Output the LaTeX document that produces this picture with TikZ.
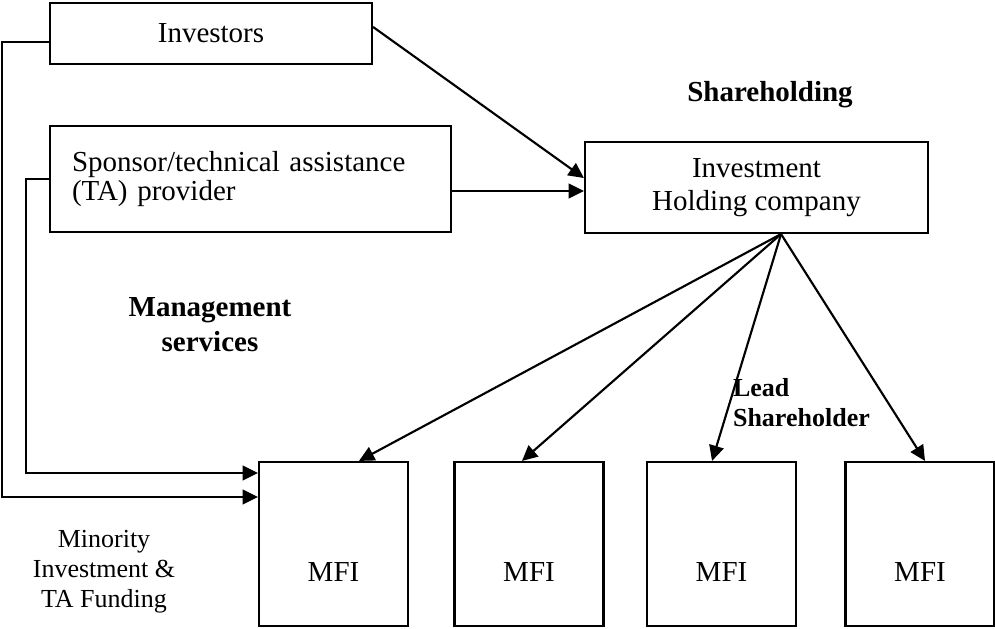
\documentclass[tikz,border=0pt]{standalone}
\usepackage{fontspec}
\setmainfont{Liberation Serif}
\usetikzlibrary{arrows.meta,calc}
\begin{document}
\begin{tikzpicture}[x=0.75pt,y=-0.75pt,line width=1.6pt,
  box/.style={draw,rectangle,inner sep=0pt,font=\fontsize{21.75}{21.75}\selectfont},
  mfibox/.style={box,minimum width=111.75pt,minimum height=123pt},
  arr/.style={-{Triangle[length=11.5pt,width=11pt]}},
  lbl/.style={font=\fontsize{21.75}{26}\selectfont\bfseries,align=center,inner sep=0pt},
  txt/.style={font=\fontsize{21.75}{21.75}\selectfont,inner sep=0pt},
  small/.style={font=\fontsize{19.5}{22.5}\selectfont,inner sep=0pt}]
\useasboundingbox (0,0) rectangle (995,628);

\node[box,minimum width=241.5pt,minimum height=45.75pt] (inv) at (211,33.5) {Investors};
\node[box,minimum width=300.75pt,minimum height=79.5pt,text width=267.75pt,align=left] (spon) at (250.5,179) {Sponsor/technical assistance\\(TA) provider};
\node[box,minimum width=257.25pt,minimum height=68.25pt,align=center,font=\fontsize{21.75}{24.75}\selectfont] (hold) at (756.5,187.5) {Investment\\Holding company};

\node[mfibox] (m1) at (333.5,544) {};
\node[mfibox] (m2) at (529,544) {};
\node[mfibox] (m3) at (721.5,544) {};
\node[mfibox] (m4) at (920,544) {};
\node[txt] (m1t) at (333.5,572) {MFI};
\node[txt] (m2t) at (529,572) {MFI};
\node[txt] (m3t) at (721.5,572) {MFI};
\node[txt] (m4t) at (920,572) {MFI};

\node[lbl] (sh) at (770,95) {Shareholding};
\node[lbl] (ms) at (210,324.5) {Management\\services};
\node[small,font=\fontsize{19.5}{22.5}\selectfont\bfseries,align=left,anchor=west] (ls) at (732,403) {Lead\\Shareholder};
\node[small,align=center] (mi) at (104,572) {Minority\\Investment \&\\TA Funding};

% investors and sponsor to holding
\draw[arr] ([yshift=4.9pt]inv.east) -- ([yshift=7.1pt]hold.west);
\coordinate (s1) at ([yshift=-9pt]spon.east);
\draw[arr] (s1) -- (s1 -| hold.west);

% holding to MFIs
\coordinate (apex) at ([xshift=18.4pt]hold.south);
\draw[arr] (apex) -- ([xshift=19.1pt]m1.north);
\draw[arr] (apex) -- ([xshift=-5.25pt]m2.north);
\draw[arr] (apex) -- ([xshift=-7.1pt]m3.north);
\draw[arr] (apex) -- ([xshift=3.75pt]m4.north);

% left side feeds
\coordinate (lx) at (2,0);
\coordinate (lx2) at (26,0);
\coordinate (i1) at ([yshift=-6.4pt]inv.west);
\coordinate (t1) at ([yshift=35.25pt]m1.west);
\coordinate (t2) at ([yshift=53.25pt]m1.west);
\draw[arr] (i1) -- (i1 -| lx) |- (t1);
\draw[arr] (spon.west) -- (spon.west -| lx2) |- (t2);
\end{tikzpicture}
\end{document}
